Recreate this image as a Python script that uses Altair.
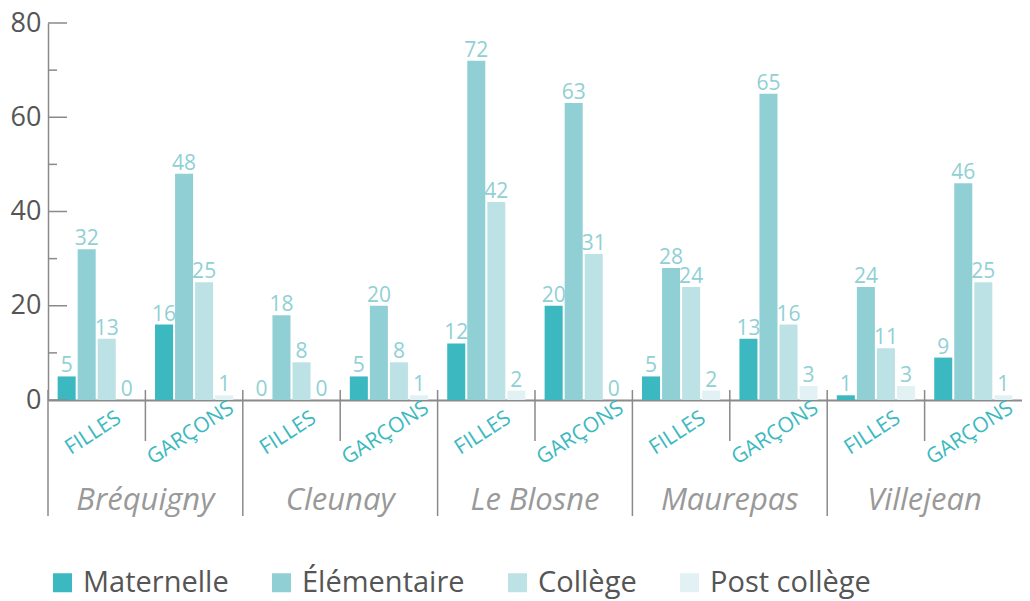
import altair as alt
import pandas as pd

quartiers = ["Bréquigny", "Cleunay", "Le Blosne", "Maurepas", "Villejean"]
sexes = ["FILLES", "GARÇONS"]
niveaux = ["Maternelle", "Élémentaire", "Collège", "Post collège"]
couleurs = ["#3cb9c0", "#90d0d5", "#bde2e5", "#e1f1f4"]

# one value per group: Bréquigny F, Bréquigny G, Cleunay F, Cleunay G, ...
maternelle = [5, 16, 0, 5, 12, 20, 5, 13, 1, 9]
elementaire = [32, 48, 18, 20, 72, 63, 28, 65, 24, 46]
college = [13, 25, 8, 8, 42, 31, 24, 16, 11, 25]
post_college = [0, 1, 0, 1, 2, 0, 2, 3, 3, 1]

y_ticks_major = [0, 20, 40, 60, 80]
y_ticks_minor = [10, 30, 50, 70]

groupes = [f"{q}|{s}" for q in quartiers for s in sexes]
rows = []
for i, g in enumerate(groupes):
    q, s = g.split("|")
    for n, vals in zip(niveaux, [maternelle, elementaire, college, post_college]):
        rows.append(dict(groupe=g, quartier=q, sexe=s, niveau=n, valeur=vals[i]))
df = pd.DataFrame(rows)
grp_df = pd.DataFrame({
    "groupe": groupes,
    "quartier": [g.split("|")[0] for g in groupes],
    "sexe": [g.split("|")[1] for g in groupes],
})

W, H = 974, 377
FONT = "Open Sans"
GRAY = "#8a8a8a"

xscale = alt.Scale(domain=groupes, paddingInner=0, paddingOuter=0)
yscale = alt.Scale(domain=[0, 80], nice=False)
xoff = alt.XOffset("niveau:N", scale=alt.Scale(domain=niveaux, paddingInner=0.1, paddingOuter=0.48))

bars = alt.Chart(df).mark_bar().encode(
    x=alt.X("groupe:N", scale=xscale,
            axis=alt.Axis(labels=False, ticks=False, title=None,
                          domainColor=GRAY, domainWidth=2)),
    xOffset=xoff,
    y=alt.Y("valeur:Q", scale=yscale,
            axis=alt.Axis(values=y_ticks_major, ticks=False, title=None, grid=False,
                          labelFontSize=27, labelColor="#555555", labelPadding=7,
                          labelFont=FONT, domainColor=GRAY, domainWidth=1.5)),
    color=alt.Color("niveau:N", scale=alt.Scale(domain=niveaux, range=couleurs),
                    legend=alt.Legend(orient="none", legendX=0, legendY=545,
                                      direction="horizontal", title=None,
                                      symbolType="square", symbolSize=361,
                                      symbolStrokeWidth=0, symbolOpacity=1,
                                      labelFontSize=29, labelColor="#555555",
                                      labelFont=FONT, labelOffset=6, labelLimit=400,
                                      columnPadding=38, padding=0)),
)

ticks_major = alt.Chart(pd.DataFrame({"valeur": y_ticks_major})).mark_rule(
    color=GRAY, strokeWidth=1.5
).encode(y=alt.Y("valeur:Q", scale=yscale), x=alt.value(0), x2=alt.value(19))

ticks_minor = alt.Chart(pd.DataFrame({"valeur": y_ticks_minor})).mark_rule(
    color=GRAY, strokeWidth=1.5
).encode(y=alt.Y("valeur:Q", scale=yscale), x=alt.value(0), x2=alt.value(9))

sep_long = alt.Chart(grp_df).transform_filter(alt.datum.sexe == "FILLES").mark_rule(
    color=GRAY, strokeWidth=1.5
).encode(x=alt.X("groupe:N", scale=xscale, bandPosition=0),
         y=alt.value(367), y2=alt.value(493))

sep_short = alt.Chart(grp_df).transform_filter(alt.datum.sexe == "GARÇONS").mark_rule(
    color=GRAY, strokeWidth=1.5
).encode(x=alt.X("groupe:N", scale=xscale, bandPosition=0),
         y=alt.value(367), y2=alt.value(418))

value_labels = alt.Chart(df).mark_text(
    baseline="alphabetic", dy=-4, fontSize=21, color="#90d0d5", font=FONT
).encode(x=alt.X("groupe:N", scale=xscale), xOffset=xoff,
         y=alt.Y("valeur:Q", scale=yscale), text="valeur:Q")

sexe_labels = alt.Chart(grp_df).mark_text(
    angle=327, align="center", baseline="middle", fontSize=21,
    color="#3cb9c0", font=FONT, dx=-4
).encode(x=alt.X("groupe:N", scale=xscale), y=alt.value(408), text="sexe:N")

quartier_labels = alt.Chart(grp_df).transform_filter(alt.datum.sexe == "GARÇONS").mark_text(
    align="center", baseline="alphabetic", fontSize=31, fontStyle="italic",
    color="#999999", font=FONT
).encode(x=alt.X("groupe:N", scale=xscale, bandPosition=0),
         y=alt.value(487), text="quartier:N")

chart = alt.layer(
    bars, ticks_major, ticks_minor, sep_long, sep_short,
    value_labels, sexe_labels, quartier_labels
).properties(
    width=W, height=H,
    autosize=alt.AutoSizeParams(type="none"),
    padding={"left": 40, "top": 15, "right": 0, "bottom": 201},
).configure_view(stroke=None)

chart.save("out.html", embed_options={"renderer": "svg", "actions": False})
